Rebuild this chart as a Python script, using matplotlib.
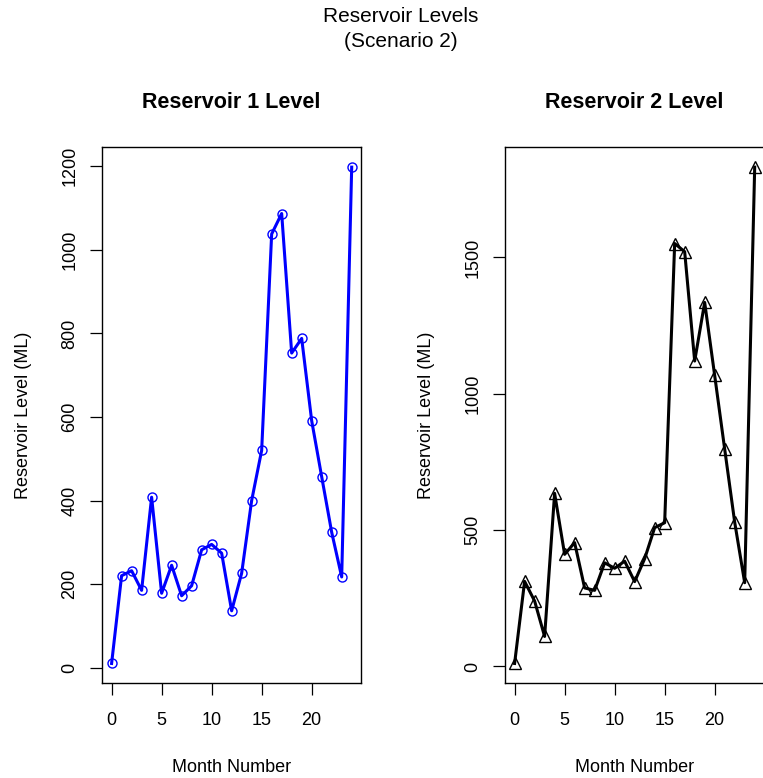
import matplotlib
matplotlib.use("Agg")
import matplotlib.pyplot as plt

plt.rcParams['font.family'] = ['Liberation Sans', 'DejaVu Sans']

months = list(range(25))
res1_level = [10, 220, 232, 185, 408, 178, 245, 172, 196, 282, 295, 274, 136,
              226, 400, 520, 1038, 1087, 753, 788, 591, 457, 324, 217, 1198]
res2_level = [11, 312, 240, 110, 635, 411, 454, 288, 279, 380, 360, 386, 311,
              395, 509, 527, 1551, 1521, 1120, 1335, 1067, 797, 529, 307, 1831]
x_ticks = [0, 5, 10, 15, 20]
y_ticks1 = [0, 200, 400, 600, 800, 1000, 1200]
y_ticks2 = [0, 500, 1000, 1500]

W, H = 763, 778
fig = plt.figure(figsize=(W / 100, H / 100), dpi=100)

# R-like panels: 4% padding on both axes
def panel(rect, y, yticks, title, color, marker, msize):
    ax = fig.add_axes(rect)
    ax.plot(months, y, color=color, lw=2.2, marker=marker, ms=msize,
            mfc='none', mec=color, mew=1.0)
    xr = max(months) - min(months)
    ax.set_xlim(min(months) - 0.04 * xr, max(months) + 0.04 * xr)
    yr = max(y) - min(y)
    ax.set_ylim(min(y) - 0.04 * yr, max(y) + 0.04 * yr)
    ax.set_xticks(x_ticks)
    ax.set_yticks(yticks)
    ax.set_yticklabels([str(v) for v in yticks], rotation=90, va='center')
    ax.tick_params(length=8.5, width=0.9, labelsize=13)
    ax.tick_params(axis='x', pad=12)
    ax.tick_params(axis='y', pad=8.5)
    for s in ax.spines.values():
        s.set_linewidth(1.0)
    ax.set_title(title, fontsize=15.5, fontweight='bold', pad=28)
    ax.set_xlabel('Month Number', fontsize=13, labelpad=22)
    ax.set_ylabel('Reservoir Level (ML)', fontsize=13, labelpad=21)
    return ax

w, h = 259.3 / W, 536 / H
bottom = (H - 683.3) / H
panel([102 / W, bottom, w, h], res1_level, y_ticks1, 'Reservoir 1 Level',
      'blue', 'o', 6.5)
panel([505 / W, bottom, w, h], res2_level, y_ticks2, 'Reservoir 2 Level',
      'black', '^', 8.5)

fig.text(401 / W, 1 - 16.5 / H, 'Reservoir Levels', ha='center', va='center',
         fontsize=15)
fig.text(401 / W, 1 - 41.5 / H, '(Scenario 2)', ha='center', va='center',
         fontsize=15)

fig.savefig('out.png', dpi=100)
